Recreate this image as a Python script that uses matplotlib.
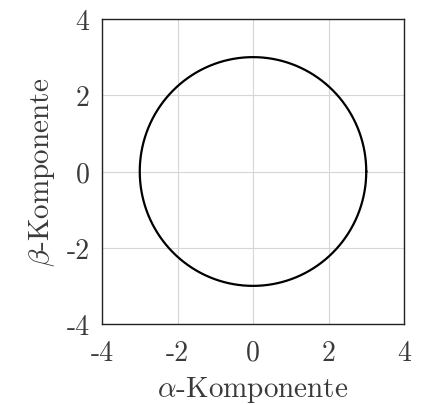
import numpy as np
import matplotlib
matplotlib.use("Agg")
import matplotlib.pyplot as plt

plt.rcParams['font.family'] = ['cmr10', 'DejaVu Serif']
plt.rcParams['mathtext.fontset'] = 'cm'
plt.rcParams['axes.formatter.use_mathtext'] = True

# Space vector trajectory in the alpha-beta plane
radius = 3.0
theta = np.linspace(0, 2 * np.pi, 721)
alpha = radius * np.cos(theta)
beta = radius * np.sin(theta)

ticks = [-4, -2, 0, 2, 4]
tick_labels = ["-4", "-2", "0", "2", "4"]

fig = plt.figure(figsize=(4.21, 4.06), dpi=100)
ax = fig.add_axes([102 / 421, 1 - 325 / 406, 302 / 421, 305 / 406])

ax.plot(alpha, beta, color='black', lw=1.6, zorder=3)

ax.set_xlim(-4, 4)
ax.set_ylim(-4, 4)
ax.set_xticks(ticks)
ax.set_yticks(ticks)
ax.set_xticklabels(tick_labels, fontsize=20, color='#3a3a3a')
ax.set_yticklabels(tick_labels, fontsize=20, color='#3a3a3a')
ax.tick_params(axis='x', length=0, pad=11)
ax.tick_params(axis='y', length=0, pad=9)
ax.grid(True, color='#d6d6d6', lw=0.8)
for s in ax.spines.values():
    s.set_linewidth(1.0)
    s.set_color('#222222')

ax.set_xlabel(r'$\alpha$-Komponente', fontsize=21, color='#3a3a3a', labelpad=6)
ax.set_ylabel(r'$\beta$-Komponente', fontsize=21, color='#3a3a3a', labelpad=7)

fig.savefig('out.png', dpi=100)
